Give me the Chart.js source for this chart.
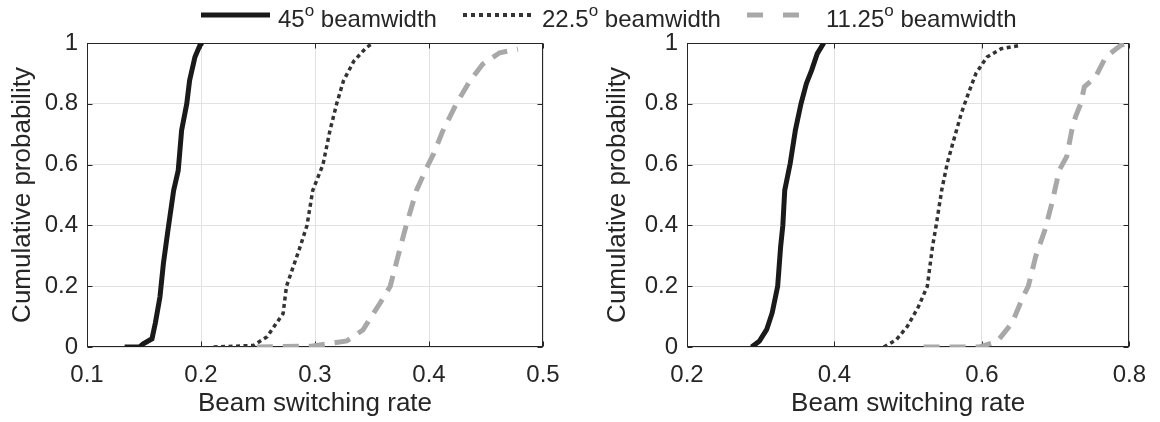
<!DOCTYPE html>
<html>
<head>
<meta charset="utf-8">
<script src="https://cdn.jsdelivr.net/npm/chart.js@4/dist/chart.umd.min.js"></script>
<style>
  html, body { margin: 0; padding: 0; background: #fff; }
  #wrap { position: relative; width: 1160px; height: 422px; overflow: hidden; font-family: "Liberation Sans", Arial, Helvetica, sans-serif; color: #262626; }
  .cv { position: absolute; top: 0; }
  .lg-txt { position: absolute; top: 6px; font-size: 24px; line-height: 26px; white-space: nowrap; }
  .lg-txt sup { font-size: 17px; position: relative; top: -11px; vertical-align: baseline; line-height: 0; }
  .lg-svg { position: absolute; top: 8px; }
</style>
</head>
<body>
<div id="wrap">
  <canvas id="cLeft" class="cv" width="580" height="422" style="left:0"></canvas>
  <canvas id="cRight" class="cv" width="580" height="422" style="left:580px"></canvas>

  <!-- shared legend -->
  <svg class="lg-svg" style="left:201px" width="70" height="14"><line x1="0" y1="7" x2="69" y2="7" stroke="#1a1a1a" stroke-width="5"/></svg>
  <span class="lg-txt" style="left:278px">45<sup>o</sup> beamwidth</span>
  <svg class="lg-svg" style="left:463px" width="70" height="14"><line x1="0" y1="7" x2="69" y2="7" stroke="#333" stroke-width="4" stroke-dasharray="4 4"/></svg>
  <span class="lg-txt" style="left:542px">22.5<sup>o</sup> beamwidth</span>
  <svg class="lg-svg" style="left:747px" width="70" height="14"><line x1="0" y1="7" x2="69" y2="7" stroke="#a8a8a8" stroke-width="5" stroke-dasharray="16 20"/></svg>
  <span class="lg-txt" style="left:826px">11.25<sup>o</sup> beamwidth</span>
</div>

<script>
// ---- data (x = beam switching rate, y = CDF) ----
var left45X   = [0.133, 0.146, 0.149, 0.157, 0.160, 0.164, 0.167, 0.171, 0.176, 0.180, 0.183, 0.1875, 0.190, 0.1947, 0.199, 0.201];
var left45Y   = [0, 0, 0.01, 0.027, 0.08, 0.165, 0.274, 0.384, 0.515, 0.58, 0.713, 0.8, 0.877, 0.954, 0.992, 1];
var left225X  = [0.211, 0.246, 0.258, 0.272, 0.275, 0.287, 0.293, 0.298, 0.307, 0.313, 0.319, 0.325, 0.334, 0.345, 0.351];
var left225Y  = [0, 0.005, 0.034, 0.11, 0.2, 0.33, 0.4, 0.515, 0.6, 0.71, 0.8, 0.876, 0.94, 0.985, 1];
var left1125X = [0.249, 0.298, 0.328, 0.342, 0.357, 0.366, 0.375, 0.380, 0.389, 0.398, 0.404, 0.412, 0.424, 0.436, 0.447, 0.462, 0.478];
var left1125Y = [0, 0.003, 0.02, 0.056, 0.144, 0.2, 0.33, 0.4, 0.515, 0.59, 0.635, 0.71, 0.8, 0.876, 0.93, 0.968, 0.98];

var right45X   = [0.2876, 0.298, 0.308, 0.3155, 0.323, 0.327, 0.330, 0.3326, 0.340, 0.347, 0.3546, 0.362, 0.369, 0.3767, 0.3855];
var right45Y   = [0, 0.019, 0.057, 0.112, 0.2, 0.33, 0.4, 0.516, 0.604, 0.713, 0.8, 0.867, 0.91, 0.965, 1];
var right225X  = [0.467, 0.484, 0.499, 0.514, 0.526, 0.533, 0.538, 0.5455, 0.553, 0.563, 0.572, 0.580, 0.592, 0.607, 0.626, 0.651];
var right225Y  = [0, 0.024, 0.068, 0.133, 0.2, 0.33, 0.4, 0.516, 0.604, 0.691, 0.768, 0.823, 0.9, 0.954, 0.981, 0.992];
var right1125X = [0.521, 0.597, 0.621, 0.641, 0.656, 0.663, 0.673, 0.6855, 0.695, 0.705, 0.715, 0.722, 0.727, 0.734, 0.739, 0.754, 0.768, 0.788, 0.8];
var right1125Y = [0, 0, 0.019, 0.079, 0.166, 0.2, 0.298, 0.385, 0.473, 0.582, 0.626, 0.713, 0.757, 0.8, 0.856, 0.888, 0.954, 0.992, 1];

var yTicks = [0, 0.2, 0.4, 0.6, 0.8, 1];
var xRangeLeft = [0.1, 0.5], xStepLeft = 0.1;
var xRangeRight = [0.2, 0.8], xStepRight = 0.2;

var FONT = "'Liberation Sans', Arial, Helvetica, sans-serif";
var INK = "#262626";

function _pts(xs, ys) {
  return xs.map(function(x, i) { return { x: x, y: ys[i] }; });
}

function _sets(x45, y45, x225, y225, x1125, y1125) {
  return [
    { label: "45", data: _pts(x45, y45), borderColor: "#1a1a1a", borderWidth: 5, pointRadius: 0, tension: 0, fill: false },
    { label: "22.5", data: _pts(x225, y225), borderColor: "#333333", borderWidth: 3.5, borderDash: [4, 3.5], pointRadius: 0, tension: 0, fill: false },
    { label: "11.25", data: _pts(x1125, y1125), borderColor: "#a8a8a8", borderWidth: 5, borderDash: [16, 10], pointRadius: 0, tension: 0, fill: false }
  ];
}

// box round the axes + inward tick marks (MATLAB look)
var boxPlugin = {
  id: "box",
  beforeDatasetsDraw: function(chart) {
    var ctx = chart.ctx, a = chart.chartArea, xs = chart.scales.x, ys = chart.scales.y;
    ctx.save();
    ctx.strokeStyle = INK;
    ctx.lineWidth = 1;
    var L = Math.round(a.left) + 0.5, R = Math.round(a.right) - 0.5;
    var T = Math.round(a.top) + 0.5, B = Math.round(a.bottom) - 0.5;
    ctx.strokeRect(L, T, R - L, B - T);
    ctx.beginPath();
    xs.ticks.forEach(function(t) {
      var px = Math.round(xs.getPixelForValue(t.value)) + 0.5;
      ctx.moveTo(px, B); ctx.lineTo(px, B - 5);
      ctx.moveTo(px, T); ctx.lineTo(px, T + 5);
    });
    ys.ticks.forEach(function(t) {
      var py = Math.round(ys.getPixelForValue(t.value)) + 0.5;
      ctx.moveTo(L, py); ctx.lineTo(L + 5, py);
      ctx.moveTo(R, py); ctx.lineTo(R - 5, py);
    });
    ctx.stroke();
    ctx.restore();
  }
};

function _makeChart(id, datasets, xRange, xStep, pad, yAxisW) {
  return new Chart(document.getElementById(id).getContext("2d"), {
    type: "line",
    data: { datasets: datasets },
    plugins: [boxPlugin],
    options: {
      responsive: false,
      animation: false,
      layout: { padding: pad },
      plugins: { legend: { display: false }, tooltip: { enabled: false } },
      scales: {
        x: {
          type: "linear",
          min: xRange[0], max: xRange[1],
          afterFit: function(s) { s.height = 75; },
          afterBuildTicks: function(s) {
            var tk = [];
            for (var v = xRange[0]; v <= xRange[1] + 1e-9; v += xStep) tk.push({ value: +v.toFixed(2) });
            s.ticks = tk;
          },
          ticks: {
            padding: 14, color: INK, font: { family: FONT, size: 24 },
            maxRotation: 0,
            callback: function(v) { return String(+(+v).toFixed(2)); }
          },
          grid: { color: "#e2e2e2", drawTicks: false },
          border: { display: false },
          title: { display: true, text: "Beam switching rate", color: INK, font: { family: FONT, size: 26 }, padding: { top: 0, bottom: 3 } }
        },
        y: {
          type: "linear",
          min: 0, max: 1,
          afterFit: function(s) { s.width = yAxisW; },
          afterBuildTicks: function(s) { s.ticks = yTicks.map(function(v) { return { value: v }; }); },
          ticks: {
            padding: 9, color: INK, font: { family: FONT, size: 24 },
            callback: function(v) { return String(+(+v).toFixed(1)); }
          },
          grid: { color: "#e2e2e2", drawTicks: false },
          border: { display: false },
          title: { display: true, text: "Cumulative probability", color: INK, font: { family: FONT, size: 26 }, padding: { top: 7, bottom: 0 } }
        }
      }
    }
  });
}

_makeChart("cLeft", _sets(left45X, left45Y, left225X, left225Y, left1125X, left1125Y),
  xRangeLeft, xStepLeft, { left: 0, right: 37, top: 43, bottom: 0 }, 87);
_makeChart("cRight", _sets(right45X, right45Y, right225X, right225Y, right1125X, right1125Y),
  xRangeRight, xStepRight, { left: 15, right: 17, top: 43, bottom: 0 }, 92);
</script>
</body>
</html>
